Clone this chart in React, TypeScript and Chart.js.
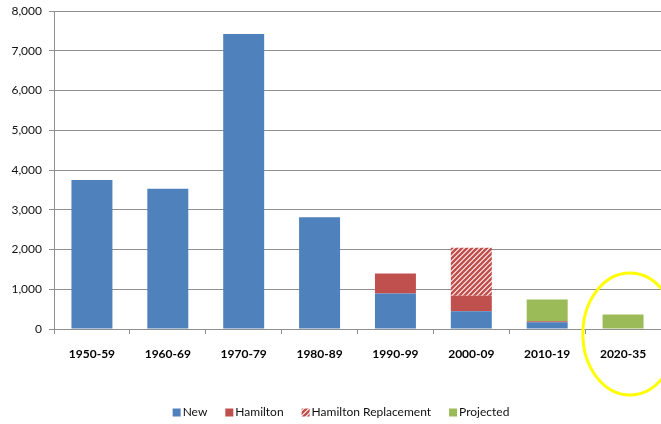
import React, { useEffect, useRef } from 'react';
import { Chart, registerables } from 'chart.js';

Chart.register(...registerables);

const categories = ['1950-59', '1960-69', '1970-79', '1980-89', '1990-99', '2000-09', '2010-19', '2020-35'];
const newValues = [3750, 3530, 7420, 2810, 895, 445, 170, 0];
const hamiltonValues = [0, 0, 0, 0, 500, 390, 25, 0];
const replacementValues = [0, 0, 0, 0, 0, 1210, 0, 0];
const projectedValues = [0, 0, 0, 0, 0, 0, 550, 365];
const seriesNames = ['New', 'Hamilton', 'Hamilton Replacement', 'Projected'];
const yMax = 8000;
const yStep = 1000;
const highlightCategory = '2020-35';

const BLUE = '#4F81BD';
const RED = '#C0504D';
const GREEN = '#9BBB59';
const GRID = '#8f8f8f';
const FONT = 'Lato, "Open Sans", sans-serif';

function makeHatch(): CanvasPattern | string {
  const size = 5;
  const c = document.createElement('canvas');
  c.width = size;
  c.height = size;
  const ctx = c.getContext('2d');
  if (!ctx) return RED;
  ctx.fillStyle = '#ffffff';
  ctx.fillRect(0, 0, size, size);
  ctx.strokeStyle = RED;
  ctx.lineWidth = 2.6;
  ctx.beginPath();
  ctx.moveTo(-1, size + 1);
  ctx.lineTo(size + 1, -1);
  ctx.moveTo(-1, 1);
  ctx.lineTo(1, -1);
  ctx.moveTo(size - 1, size + 1);
  ctx.lineTo(size + 1, size - 1);
  ctx.stroke();
  return ctx.createPattern(c, 'repeat') || RED;
}

const ellipsePlugin = {
  id: 'highlightEllipse',
  afterDraw(chart: any) {
    const x = chart.scales.x;
    const y = chart.scales.y;
    const idx = categories.indexOf(highlightCategory);
    if (idx < 0) return;
    const catW = (x.right - x.left) / categories.length;
    const cx = x.getPixelForValue(idx) + catW * 0.09;
    const cy = y.getPixelForValue(0) + 5;
    const rx = catW * 0.62;
    const ry = 61;
    const ctx = chart.ctx;
    ctx.save();
    ctx.strokeStyle = '#FFFF00';
    ctx.lineWidth = 3;
    ctx.beginPath();
    ctx.ellipse(cx, cy, rx, ry, 0, 0, Math.PI * 2);
    ctx.stroke();
    ctx.restore();
  },
};

const legendPlugin = {
  id: 'customLegend',
  afterDraw(chart: any) {
    const ctx = chart.ctx;
    const box = 8;
    const textGap = 2;
    const itemGap = 18;
    const cy = 412.5;
    ctx.save();
    ctx.font = `12px ${FONT}`;
    ctx.textBaseline = 'middle';
    ctx.textAlign = 'left';
    const items = chart.data.datasets.map((d: any, i: number) => ({
      label: seriesNames[i],
      fill: d.backgroundColor,
      w: box + textGap + ctx.measureText(seriesNames[i]).width,
    }));
    const total = items.reduce((s: number, it: any) => s + it.w, 0) + itemGap * (items.length - 1);
    let x = 341 - total / 2;
    for (const it of items) {
      ctx.fillStyle = it.fill;
      ctx.fillRect(x, cy - box / 2, box, box);
      ctx.fillStyle = '#111';
      ctx.fillText(it.label, x + box + textGap, cy);
      x += it.w + itemGap;
    }
    ctx.restore();
  },
};

export default function App() {
  const ref = useRef<HTMLCanvasElement | null>(null);

  useEffect(() => {
    if (!ref.current) return;
    const hatch = makeHatch();
    const chart = new Chart(ref.current, {
      type: 'bar',
      data: {
        labels: categories,
        datasets: [
          { label: seriesNames[0], data: newValues, backgroundColor: BLUE, borderWidth: 0 },
          { label: seriesNames[1], data: hamiltonValues, backgroundColor: RED, borderWidth: 0 },
          { label: seriesNames[2], data: replacementValues, backgroundColor: hatch as any, borderWidth: 0 },
          { label: seriesNames[3], data: projectedValues, backgroundColor: GREEN, borderWidth: 0 },
        ],
      },
      options: {
        animation: false,
        responsive: true,
        maintainAspectRatio: false,
        layout: { padding: { top: 11, right: 0, left: 0, bottom: 0 } },
        datasets: { bar: { categoryPercentage: 1, barPercentage: 0.54 } },
        plugins: {
          legend: { display: false },
          tooltip: { enabled: false },
        },
        scales: {
          x: {
            stacked: true,
            grid: { drawOnChartArea: false, drawTicks: true, tickLength: 5, color: GRID, offset: true },
            border: { display: true, color: GRID },
            ticks: { color: '#000', padding: 13, font: { family: FONT, size: 12, weight: 'bold' } },
            afterFit(scale: any) {
              scale.height = 95;
              scale.paddingLeft = 0;
              scale.paddingRight = 0;
            },
          },
          y: {
            stacked: true,
            min: 0,
            max: yMax,
            grid: { color: GRID, tickLength: 5, drawTicks: true },
            border: { display: true, color: GRID },
            ticks: {
              stepSize: yStep,
              padding: 7,
              color: '#111',
              font: { family: FONT, size: 12 },
              callback: (v: any) => Number(v).toLocaleString('en-US'),
            },
            afterFit(scale: any) {
              scale.width = 54;
              scale.paddingTop = 0;
              scale.paddingBottom = 0;
            },
          },
        },
      },
      plugins: [ellipsePlugin, legendPlugin],
    });
    return () => chart.destroy();
  }, []);

  return (
    <div style={{ position: 'absolute', left: 0, top: 0, width: 661, height: 424, background: '#fff' }}>
      <canvas ref={ref} />
    </div>
  );
}
